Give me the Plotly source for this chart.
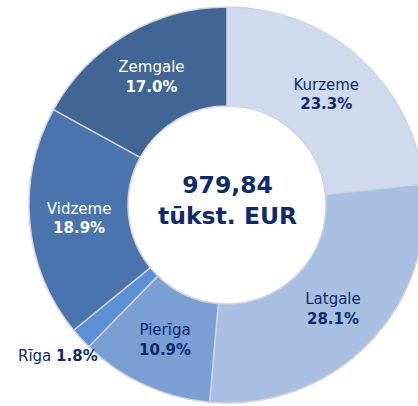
import plotly.graph_objects as go

regions = ["Kurzeme", "Latgale", "Pierīga", "Rīga", "Vidzeme", "Zemgale"]
shares = [23.3, 28.1, 10.9, 1.8, 18.9, 17.0]
colors = ["#cfdaee", "#a9bfe1", "#799fd5", "#5b8fd6", "#4a74ad", "#416594"]
text_colors = ["#0d2a6e", "#0d2a6e", "#0d2a6e", "#0d2a6e", "#ffffff", "#ffffff"]
positions = ["inside", "inside", "inside", "none", "inside", "inside"]
center_text = "<b>979,84<br>tūkst. EUR</b>"

W, H = 454, 410
L, R, T, B = 29, 29, 7, 7

fig = go.Figure(go.Pie(
    labels=regions,
    values=shares,
    hole=0.5,
    sort=False,
    direction="clockwise",
    rotation=0,
    marker=dict(colors=colors, line=dict(color="#d0d4da", width=1.5)),
    texttemplate="%{label}<br><b>%{percent:.1%}</b>",
    textposition=positions,
    insidetextorientation="horizontal",
    textfont=dict(family="DejaVu Sans", size=15, color=text_colors),
    showlegend=False,
))

fig.add_annotation(
    text=center_text, x=0.5, y=0.5, xref="paper", yref="paper", yshift=5,
    showarrow=False, font=dict(family="DejaVu Sans", size=23.5, color="#0d2a6e"),
)

# outside label for the small slice
i = regions.index("Rīga")
fig.add_annotation(
    text=f"{regions[i]} <b>{shares[i]:.1f}%</b>",
    x=(100 - L) / (W - L - R), y=1 - (356 - T) / (H - T - B),
    xref="paper", yref="paper", xanchor="right", yanchor="middle",
    showarrow=False, font=dict(family="DejaVu Sans", size=15, color="#0d2a6e"),
)

fig.update_layout(
    width=W, height=H,
    margin=dict(l=L, r=R, t=T, b=B),
    paper_bgcolor="white",
    plot_bgcolor="white",
)

fig.write_html(
    "out.html",
    config={"displayModeBar": False},
    post_script="document.body.style.margin='0';document.body.style.overflow='hidden';",
)
